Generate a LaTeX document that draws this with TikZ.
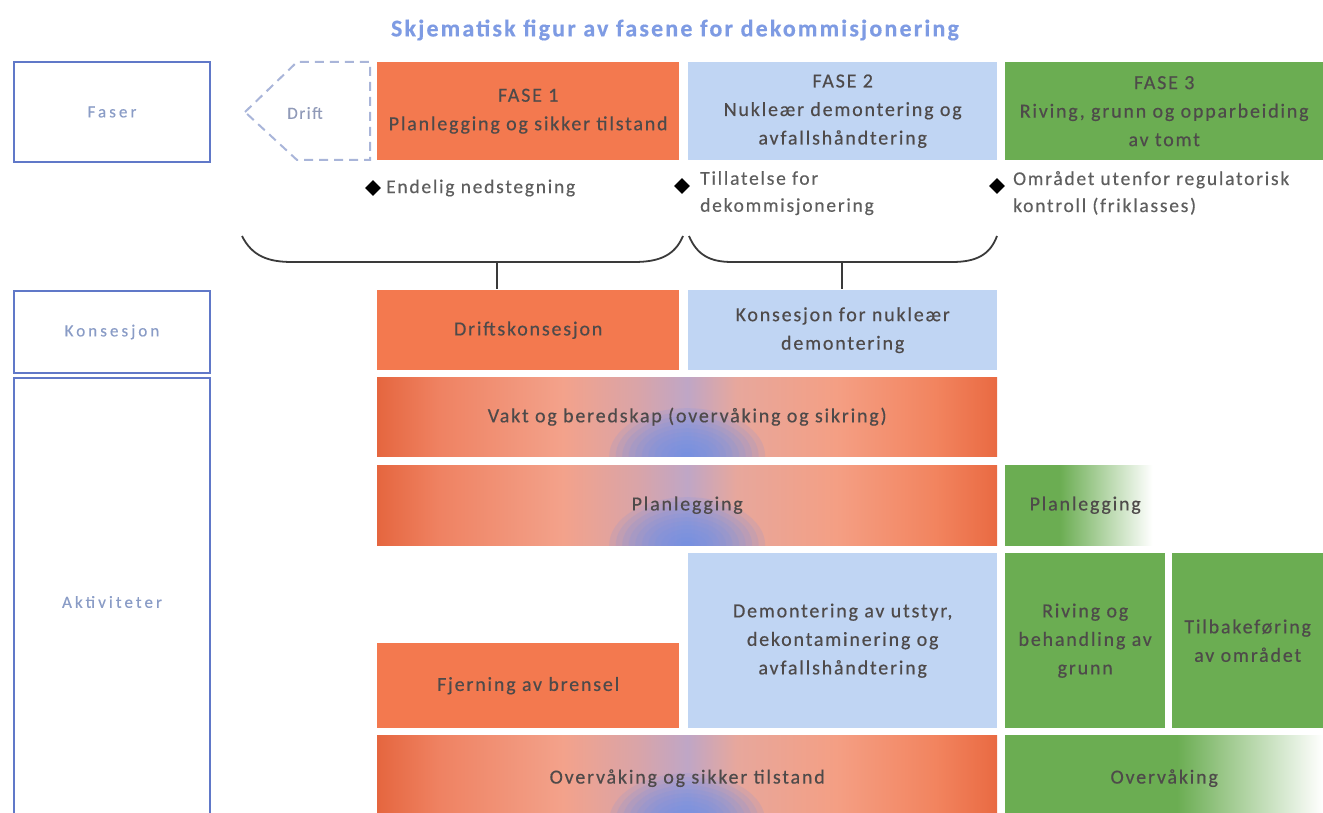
\documentclass[tikz,border=0pt]{standalone}
\usepackage{fontspec}
\setmainfont{Carlito}[LetterSpace=9, FakeBold=0.4]
\usetikzlibrary{shapes.geometric}

\definecolor{orangeF}{HTML}{F3794F}
\definecolor{lightblueF}{HTML}{C0D5F3}
\definecolor{greenF}{HTML}{6BAD52}
\definecolor{frameblue}{HTML}{6078C8}
\definecolor{sidetext}{HTML}{8A9CC6}
\definecolor{bartext}{HTML}{4E4A4A}
\definecolor{notetext}{HTML}{5E5E5E}
\definecolor{titleblue}{HTML}{7E9BE3}
\definecolor{driftline}{HTML}{A9B5D9}
\definecolor{blobblue}{HTML}{6E8FE8}
\definecolor{braceline}{HTML}{3A3A3A}

% warm bars: orange edges, pale mauve centre
\definecolor{wA}{HTML}{E5663F}
\definecolor{wB}{HTML}{EF8262}
\definecolor{wC}{HTML}{F3A28B}
\definecolor{wD}{HTML}{D9A4A8}
\definecolor{wE}{HTML}{BFA6C6}
\definecolor{wF}{HTML}{E7A79C}
\definecolor{wG}{HTML}{F49F84}
\definecolor{wH}{HTML}{F2845F}
\definecolor{wI}{HTML}{E96A42}
\pgfdeclarehorizontalshading{warmbar}{100bp}{%
  color(0bp)=(wA); color(25bp)=(wA); color(30bp)=(wB); color(40bp)=(wC);
  color(46bp)=(wD); color(50bp)=(wE); color(54bp)=(wF); color(62bp)=(wG);
  color(70bp)=(wH); color(75bp)=(wI); color(100bp)=(wI)}
\pgfdeclarehorizontalshading{greenshort}{100bp}{%
  color(0bp)=(greenF); color(42bp)=(greenF); color(71bp)=(white); color(100bp)=(white)}
\pgfdeclarehorizontalshading{greenlong}{100bp}{%
  color(0bp)=(greenF); color(52bp)=(greenF); color(75bp)=(white); color(100bp)=(white)}

\begin{document}
\begin{tikzpicture}[x=1pt,y=-1pt,
  sidebox/.style={draw=frameblue, line width=2pt, text=sidetext,
    font=\addfontfeature{LetterSpace=18}\fontsize{17}{18}\selectfont, anchor=north west, inner sep=0pt},
  bar/.style={anchor=north west, inner sep=0pt, text=bartext,
    font=\fontsize{20}{28.5}\selectfont, align=center},
  orangebox/.style={bar, fill=orangeF},
  bluebox/.style={bar, fill=lightblueF},
  greenbox/.style={bar, fill=greenF},
  warmbox/.style={bar, shade, shading=warmbar,
    path picture={\foreach \r in {12,11,...,1}
      {\fill[blobblue, opacity=0.14] (path picture bounding box.south)
        ellipse [x radius=\r*6.5pt, y radius=\r*4pt];}}},
  milestone/.style={diamond, fill=black, inner sep=0pt, minimum size=16pt},
  note/.style={anchor=north west, inner sep=0pt, text=notetext,
    font=\fontsize{19.5}{27}\selectfont, align=left},
  brace/.style={draw=braceline, line width=1.8pt}]

\useasboundingbox (0,0) rectangle (1323,813);

% title
\node[font=\bfseries\addfontfeature{LetterSpace=9}\fontsize{24}{26}\selectfont, text=titleblue] (title) at (675,30)
  {Skjematisk figur av fasene for dekommisjonering};

% row headings
\node[sidebox, minimum width=196pt, minimum height=100pt] (faser) at (13,61) {Faser};
\node[sidebox, minimum width=196pt, minimum height=82pt] (kons) at (13,290) {Konsesjon};
\node[sidebox, minimum width=196pt, minimum height=448pt] (akt) at (13,377) {Aktiviteter};

% operation phase (dashed pentagon)
\coordinate (d1) at (245,112);
\coordinate (d2) at (297,62);
\coordinate (d3) at (370,62);
\coordinate (d4) at (370,160);
\coordinate (d5) at (297,160);
\draw[driftline, line width=2pt, dash pattern=on 9pt off 6pt] (d1) -- (d2) -- (d3) -- (d4) -- (d5) -- cycle;
\node[text=driftline!85!black, font=\fontsize{17}{18}\selectfont] (drift) at (305,113) {Drift};

% phases
\node[orangebox, minimum width=302pt, minimum height=98pt] (fase1) at (377,62)
  {FASE 1\\Planlegging og sikker tilstand};
\node[bluebox, minimum width=309pt, minimum height=98pt] (fase2) at (688,62)
  {FASE 2\\Nukleær demontering og\\avfallshåndtering};
\node[greenbox, minimum width=318pt, minimum height=98pt] (fase3) at (1005,62)
  {FASE 3\\Riving, grunn og opparbeiding\\av tomt};

% milestones
\node[milestone] (m1) at (373,188) {};
\node[note, anchor=west] (m1t) at (386,188) {Endelig nedstegning};
\node[milestone] (m2) at (682,186) {};
\node[note] (m2t) at (700,171) {Tillatelse for\\dekommisjonering};
\node[milestone] (m3) at (997,186) {};
\node[note] (m3t) at (1013,171) {Området utenfor regulatorisk\\kontroll (friklasses)};

% licences
\node[orangebox, minimum width=302pt, minimum height=80pt] (drk) at (377,290)
  {Driftskonsesjon};
\node[bluebox, minimum width=309pt, minimum height=80pt] (nuk) at (688,290)
  {Konsesjon for nukleær\\demontering};

% braces grouping the phases under each licence
\coordinate (b1l) at (242,236);
\coordinate (b1r) at (683,236);
\coordinate (b1m) at (497,262);
\coordinate (b1s) at (497,289);
\draw[brace] (b1l) .. controls (252,256) and (268,262) .. (292,262) -- (634,262)
  .. controls (660,262) and (675,255) .. (b1r);
\draw[brace] (b1m) -- (b1s);
\coordinate (b2l) at (689,236);
\coordinate (b2r) at (997,236);
\coordinate (b2m) at (842,262);
\coordinate (b2s) at (842,289);
\draw[brace] (b2l) .. controls (697,255) and (710,262) .. (732,262) -- (952,262)
  .. controls (976,262) and (990,255) .. (b2r);
\draw[brace] (b2m) -- (b2s);

% activities
\node[warmbox, minimum width=620pt, minimum height=79pt] (vakt) at (377,377)
  {Vakt og beredskap (overvåking og sikring)};
\node[warmbox, minimum width=620pt, minimum height=80pt] (plan) at (377,465)
  {Planlegging};
\node[bar, shade, shading=greenshort, minimum width=160pt, minimum height=80pt] (plang) at (1005,465)
  {Planlegging};
\node[bluebox, minimum width=309pt, minimum height=175pt] (demont) at (688,553)
  {Demontering av utstyr,\\dekontaminering og\\avfallshåndtering};
\node[orangebox, minimum width=302pt, minimum height=85pt] (fjern) at (377,643)
  {Fjerning av brensel};
\node[greenbox, minimum width=160pt, minimum height=175pt] (riving) at (1005,553)
  {Riving og\\behandling av\\grunn};
\node[greenbox, minimum width=151pt, minimum height=175pt] (tilbake) at (1172,553)
  {Tilbakeføring\\av området};
\node[warmbox, minimum width=620pt, minimum height=86pt] (overv) at (377,735)
  {Overvåking og sikker tilstand};
\node[bar, shade, shading=greenlong, minimum width=318pt, minimum height=86pt] (overvg) at (1005,735)
  {Overvåking};
\end{tikzpicture}
\end{document}
